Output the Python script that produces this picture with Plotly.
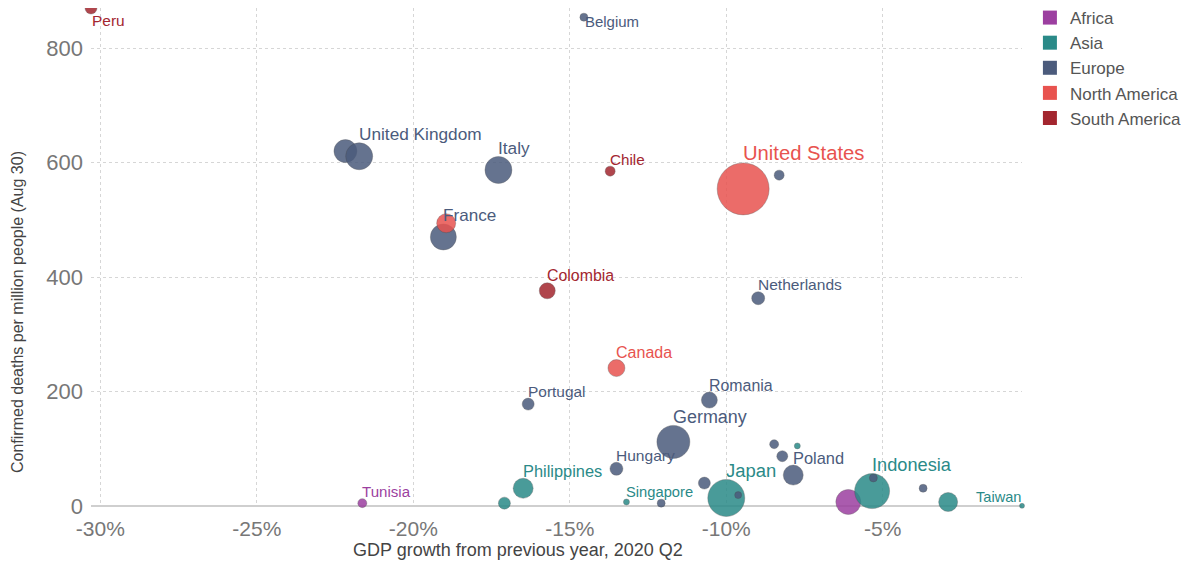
import plotly.graph_objects as go

# ---------------- data ----------------
countries = [
    "Peru", "Belgium", "Spain", "United Kingdom", "Italy", "Chile", "Sweden",
    "United States", "Mexico", "France", "Colombia", "Netherlands", "Canada",
    "Portugal", "Romania", "Germany", "Hungary", "Philippines", "Malaysia",
    "Tunisia", "Singapore", "Slovakia", "Czechia", "Japan", "Latvia", "Denmark",
    "Austria", "Israel", "Poland", "Nigeria", "Indonesia", "Norway", "Lithuania",
    "South Korea", "Taiwan",
]
continents = [
    "South America", "Europe", "Europe", "Europe", "Europe", "South America", "Europe",
    "North America", "North America", "Europe", "South America", "Europe", "North America",
    "Europe", "Europe", "Europe", "Europe", "Asia", "Asia",
    "Africa", "Asia", "Europe", "Europe", "Asia", "Europe", "Europe",
    "Europe", "Asia", "Europe", "Africa", "Asia", "Europe", "Europe",
    "Asia", "Asia",
]
gdp_growth = [
    -30.3, -14.55, -22.17, -21.73, -17.28, -13.71, -8.31,
    -9.46, -18.95, -19.04, -15.72, -8.98, -13.51,
    -16.33, -10.54, -11.69, -13.51, -16.49, -17.09,
    -21.63, -13.19, -12.08, -10.70, -10.0, -9.62, -8.47,
    -8.21, -7.73, -7.86, -6.10, -5.34, -5.30, -3.71,
    -2.91, -0.55,
]
deaths_per_million = [
    870, 854, 620, 611, 587, 585, 578,
    554, 494, 470, 376, 363, 241,
    178, 185, 112, 65, 31, 5,
    5, 7, 5, 40, 14, 19, 108,
    87, 105, 54, 7, 26, 49, 31,
    7, 0.3,
]
bubble_size = [
    12, 8, 23, 27, 27, 10, 10,
    52, 19, 26, 16, 13, 17,
    12, 16, 33, 13, 20, 12,
    9, 6, 8, 12, 37, 7, 9,
    11, 6, 20, 25, 35, 8, 8,
    19, 5,
]
labelled = [
    "Peru", "Belgium", "United Kingdom", "Italy", "Chile", "United States", "France",
    "Colombia", "Netherlands", "Canada", "Portugal", "Romania", "Germany", "Hungary",
    "Philippines", "Tunisia", "Singapore", "Japan", "Poland", "Indonesia", "Taiwan",
]
x_ticks = [-30, -25, -20, -15, -10, -5]
x_tick_labels = ["-30%", "-25%", "-20%", "-15%", "-10%", "-5%"]
y_ticks = [0, 200, 400, 600, 800]

continent_order = ["Africa", "Asia", "Europe", "North America", "South America"]
colors = {
    "Africa": "#9c3fa0",
    "Asia": "#2a8a88",
    "Europe": "#4b5b7c",
    "North America": "#e8534f",
    "South America": "#a3262f",
}
FONT = "Liberation Sans, Arial, Helvetica, sans-serif"

fig = go.Figure()

for cont in continent_order:
    idx = [i for i, c in enumerate(continents) if c == cont]
    fig.add_trace(go.Scatter(
        x=[gdp_growth[i] for i in idx],
        y=[deaths_per_million[i] for i in idx],
        mode="markers",
        name=cont,
        showlegend=False,
        cliponaxis=False,
        hovertext=[countries[i] for i in idx],
        hoverinfo="text+x+y",
        marker=dict(
            size=[bubble_size[i] for i in idx],
            sizemode="diameter",
            color=colors[cont],
            opacity=0.85,
            line=dict(width=1, color="rgba(70,70,70,0.35)"),
        ),
    ))

# legend entries with square swatches
for cont in continent_order:
    fig.add_trace(go.Scatter(
        x=[None], y=[None], mode="markers", name=cont,
        marker=dict(symbol="square", size=14, color=colors[cont]),
    ))

# point labels
special = {"Peru": "below", "Belgium": "right", "Taiwan": "left"}
annotations = []
for i, name in enumerate(countries):
    if name not in labelled:
        continue
    r = bubble_size[i] / 2.0
    fs = 14 + 0.12 * bubble_size[i]
    col = colors[continents[i]]
    place = special.get(name, "above")
    a = dict(x=gdp_growth[i], y=deaths_per_million[i], xref="x", yref="y",
             text=name, showarrow=False, font=dict(family=FONT, size=fs, color=col))
    if place == "above":
        a.update(xanchor="left", yanchor="bottom", xshift=-2, yshift=r - 3.5)
    elif place == "below":
        a.update(xanchor="left", yanchor="top", xshift=-1, yshift=-2)
    elif place == "right":
        a.update(xanchor="left", yanchor="middle", xshift=-1, yshift=-4)
    else:
        a.update(xanchor="right", yanchor="bottom", xshift=1, yshift=-1)
    annotations.append(a)

# axis titles
annotations.append(dict(
    text="GDP growth from previous year, 2020 Q2", xref="paper", yref="paper",
    x=0.4587, y=-0.0884, xanchor="center", yanchor="middle", showarrow=False,
    font=dict(family=FONT, size=18, color="#444"),
))
annotations.append(dict(
    text="Confirmed deaths per million people (Aug 30)", xref="paper", yref="paper",
    x=-0.0784, y=0.3896, xanchor="center", yanchor="middle", showarrow=False,
    textangle=-90, font=dict(family=FONT, size=16, color="#444"),
))

fig.update_layout(
    width=1181, height=565,
    margin=dict(l=83, r=167, t=0, b=67, autoexpand=False),
    plot_bgcolor="white", paper_bgcolor="rgba(0,0,0,0)",
    font=dict(family=FONT, color="#555"),
    annotations=annotations,
    legend=dict(
        x=1.0085, y=1.016, xanchor="left", yanchor="top",
        bgcolor="rgba(0,0,0,0)",
        font=dict(family=FONT, size=17, color="#555"),
        itemsizing="trace", tracegroupgap=0,
    ),
    xaxis=dict(
        range=[min(gdp_growth), max(gdp_growth)],
        tickvals=x_ticks, ticktext=x_tick_labels,
        showgrid=True, gridcolor="#d6d6d6", griddash="3px,3px", gridwidth=1,
        zeroline=False, showline=False, ticks="",
        tickfont=dict(family=FONT, size=21, color="#777"),
        ticklabelstandoff=8,
    ),
    yaxis=dict(
        range=[0, max(deaths_per_million)],
        tickvals=y_ticks,
        showgrid=True, gridcolor="#d6d6d6", griddash="3px,3px", gridwidth=1,
        zeroline=True, zerolinecolor="#cfcfcf", zerolinewidth=2,
        showline=False, ticks="",
        tickfont=dict(family=FONT, size=22, color="#777"),
        ticklabelstandoff=7,
    ),
)

fig.write_html("out.html")
